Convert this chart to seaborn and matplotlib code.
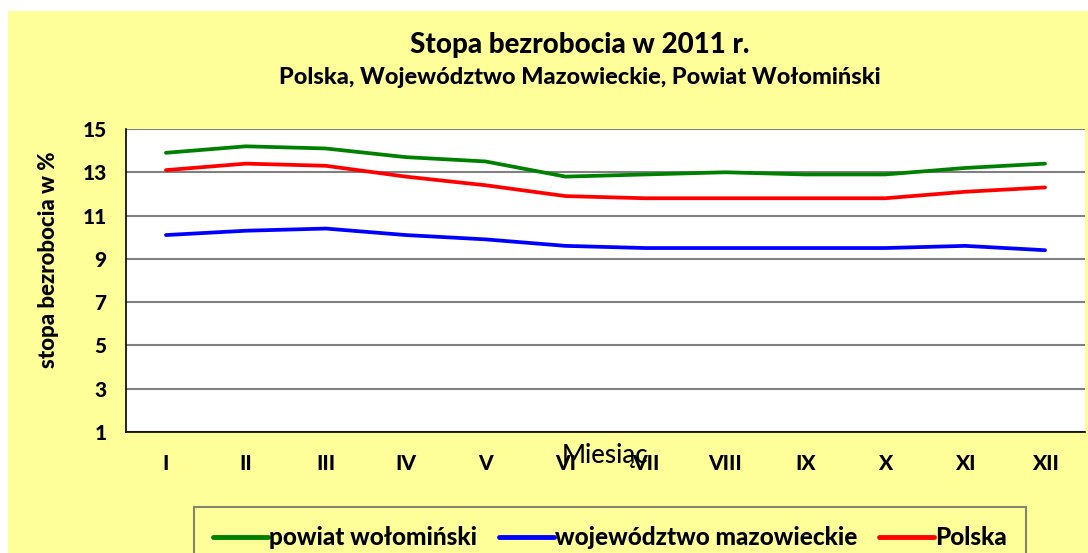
import matplotlib
matplotlib.use("Agg")
import matplotlib.pyplot as plt
import seaborn as sns
import pandas as pd
from matplotlib.patches import Rectangle

months = ["I", "II", "III", "IV", "V", "VI", "VII", "VIII", "IX", "X", "XI", "XII"]
powiat = [13.9, 14.2, 14.1, 13.7, 13.5, 12.8, 12.9, 13.0, 12.9, 12.9, 13.2, 13.4]
wojewodztwo = [10.1, 10.3, 10.4, 10.1, 9.9, 9.6, 9.5, 9.5, 9.5, 9.5, 9.6, 9.4]
polska = [13.1, 13.4, 13.3, 12.8, 12.4, 11.9, 11.8, 11.8, 11.8, 11.8, 12.1, 12.3]
series_names = ["powiat wołomiński", "województwo mazowieckie", "Polska"]
series_colors = ["#008000", "#0000FF", "#FF0000"]
y_ticks = [1, 3, 5, 7, 9, 11, 13, 15]

rows = []
for name, vals in zip(series_names, [powiat, wojewodztwo, polska]):
    for i, (m, v) in enumerate(zip(months, vals)):
        rows.append({"idx": i, "Miesiąc": m, "value": v, "series": name})
df = pd.DataFrame(rows)

sns.set_style("white")
plt.rcParams["font.family"] = ["Lato", "DejaVu Sans"]
plt.rcParams["font.weight"] = "bold"
plt.rcParams["text.color"] = "black"
plt.rcParams["axes.labelcolor"] = "black"
plt.rcParams["xtick.color"] = "black"
plt.rcParams["ytick.color"] = "black"

W, H = 1088, 553
fig = plt.figure(figsize=(W / 100, H / 100), dpi=100, facecolor="white")
fig.patches.append(Rectangle((8 / W, 0), 1, 1 - 11 / H, transform=fig.transFigure,
                             facecolor="#FFFF99", edgecolor="none", zorder=-10))

ax = fig.add_axes([126 / W, 1 - 432 / H, (1085 - 126) / W, (432 - 129) / H])
ax.set_zorder(1)
ax.set_facecolor("white")

sns.lineplot(data=df, x="idx", y="value", hue="series", hue_order=series_names,
             palette=series_colors, linewidth=2.7, ax=ax, legend=True, sort=False)

ax.set_xlim(-0.5, 11.5)
ax.set_ylim(1, 15)
ax.set_yticks(y_ticks)
ax.set_yticklabels([str(t) for t in y_ticks], fontsize=15, fontweight="black")
ax.set_xticks(range(12))
ax.set_xticklabels(months, fontsize=15, fontweight="black")
ax.set_xticks([i - 0.5 for i in range(13)], minor=True)
ax.tick_params(axis="x", which="major", length=0, pad=16)
ax.tick_params(axis="x", which="minor", length=6, width=1, color="black", direction="out")
ax.tick_params(axis="y", which="major", length=6, width=1, color="black", direction="out", pad=8)

ax.grid(axis="y", color="#808080", linewidth=1.5)
ax.grid(axis="x", visible=False)
ax.set_axisbelow(True)
for s in ["top", "right"]:
    ax.spines[s].set_visible(False)
for s in ["left", "bottom"]:
    ax.spines[s].set_color("black")
    ax.spines[s].set_linewidth(1.2)

ax.set_xlabel("Miesiąc", fontsize=18.5, fontweight="medium")
ax.xaxis.set_label_coords((605 - 126) / 959, (432 - 455) / 303)
ax.xaxis.label.set_va("center")
ax.set_ylabel("stopa bezrobocia w %", fontsize=16, fontweight="black")
ax.yaxis.set_label_coords((49 - 126) / 959, (432 - 260) / 303)
ax.yaxis.label.set_va("center")

fig.text(580 / W, 1 - 45 / H, "Stopa bezrobocia w 2011 r.", ha="center", va="center",
         fontsize=20, fontweight="black")
fig.text(580 / W, 1 - 77 / H, "Polska, Województwo Mazowieckie, Powiat Wołomiński",
         ha="center", va="center", fontsize=16.9, fontweight="black")

handles, labels = ax.get_legend_handles_labels()
ax.get_legend().remove()
for h in handles:
    h.set_linewidth(3.5)
leg = fig.legend(handles, labels, loc="upper left", bbox_to_anchor=(194 / W, 1 - 507 / H),
                 borderaxespad=0, ncol=3, frameon=True, fontsize=17.5, handlelength=2.25,
                 handletextpad=0.05, columnspacing=0.9, borderpad=0.8, fancybox=False)
leg.get_frame().set_edgecolor("#666666")
leg.get_frame().set_facecolor("#FFFF99")
leg.get_frame().set_linewidth(1.5)
for t in leg.get_texts():
    t.set_fontweight("black")

fig.savefig("out.png", dpi=100, facecolor="white")
